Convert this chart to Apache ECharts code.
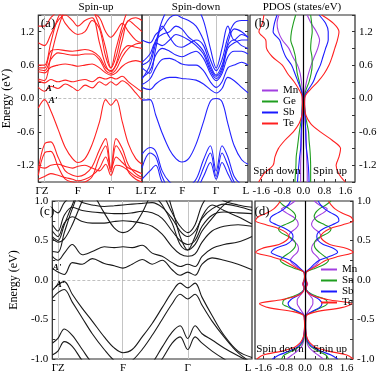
<!DOCTYPE html>
<html>
<head>
<meta charset="utf-8">
<script src="https://cdn.jsdelivr.net/npm/echarts@6/dist/echarts.min.js"></script>
<style>
  html, body { margin: 0; padding: 0; background: #fff; }
  #main { width: 382px; height: 374px; }
</style>
</head>
<body>
<div id="main"></div>
<script>
var FONT = 'Liberation Serif';

// ---- k-path (fraction of path) for each band panel ----
var kA = [0, 0.06, 0.12, 0.19, 0.26, 0.33, 0.38, 0.45, 0.52, 0.59, 0.65, 0.70, 0.75, 0.81, 0.87, 0.94, 1];
var kB = [0, 0.075, 0.13, 0.19, 0.26, 0.32, 0.375, 0.44, 0.51, 0.58, 0.645, 0.70, 0.755, 0.81, 0.87, 0.94, 1];
var kC = [0, 0.028, 0.06, 0.1, 0.15, 0.2, 0.26, 0.31, 0.354, 0.4, 0.45, 0.5, 0.55, 0.6, 0.64, 0.678, 0.715, 0.75, 0.8, 0.86, 0.93, 1];
var symA = [0.06, 0.38, 0.70];
var symB = [0.075, 0.375, 0.70];
var symC = [0.028, 0.354, 0.678];
var labA = { pos: [0.035, 0.38, 0.70, 0.97], txt: ['ΓZ', 'F', 'Γ', 'L'] };
var labB = { pos: [0.075, 0.38, 0.70, 0.98], txt: ['ΓZ', 'F', 'Γ', 'L'] };
var labC = { pos: [0.03, 0.354, 0.678, 0.98], txt: ['ΓZ', 'F', 'Γ', 'L'] };

// ---- (a) spin-up bands (eV) ----
var aV1 = [-0.17, -0.02, -0.22, -0.55, -0.88, -1.08, -1.15, -1.08, -0.82, -0.42, -0.02, -0.12, -0.02, -0.42, -0.82, -1.08, -1.18];
var aV2 = [-1.28, -0.82, -0.78, -1.05, -1.3, -1.38, -1.4, -1.36, -1.22, -0.92, -0.72, -1.25, -0.72, -0.9, -1.2, -1.35, -1.42];
var aV3 = [-1.38, -0.98, -0.95, -1.22, -1.45, -1.5, -1.52, -1.5, -1.4, -1.05, -0.85, -1.32, -0.85, -1.02, -1.32, -1.45, -1.5];
var aV4 = [-1.22, -1.25, -1.2, -1.18, -1.22, -1.25, -1.22, -1.2, -1.25, -1.3, -1.18, -1.38, -1.2, -1.22, -1.3, -1.4, -1.45];
var aV5 = [-1.45, -1.4, -1.35, -1.38, -1.42, -1.45, -1.48, -1.45, -1.38, -1.25, -1.05, -1.28, -1.05, -1.15, -1.25, -1.3, -1.35];
var aC1 = [0.2, 0.13, 0.22, 0.18, 0.26, 0.2, 0.14, 0.24, 0.19, 0.3, 0.24, 0.3, 0.24, 0.32, 0.25, 0.1, -0.03];
var aC2 = [0.32, 0.28, 0.34, 0.3, 0.33, 0.3, 0.32, 0.34, 0.3, 0.38, 0.35, 0.38, 0.35, 0.4, 0.3, 0.2, 0.12];
var aC3 = [0.48, 0.46, 0.56, 0.6, 0.62, 0.6, 0.58, 0.6, 0.62, 0.55, 0.46, 0.42, 0.46, 0.58, 0.65, 0.68, 0.65];
var aC4 = [0.52, 0.5, 0.7, 0.82, 0.8, 0.78, 0.78, 0.8, 0.8, 0.7, 0.5, 0.45, 0.52, 0.75, 0.9, 0.98, 1.0];
var aC5 = [0.55, 0.55, 0.85, 0.88, 0.86, 0.85, 0.86, 0.88, 0.85, 0.75, 0.55, 0.5, 0.6, 0.85, 0.95, 0.92, 0.9];
var aC6 = [0.35, 0.32, 0.75, 1.25, 1.6, 1.7, 1.7, 1.7, 1.6, 1.3, 0.9, 0.55, 0.9, 1.3, 1.6, 1.7, 1.7];
var aC7 = [1.0, 0.95, 1.15, 1.4, 1.5, 1.4, 1.3, 1.4, 1.45, 1.0, 0.6, 0.48, 0.62, 1.05, 1.4, 1.3, 1.2];
var aC8 = [1.3, 1.3, 1.45, 1.55, 1.35, 1.2, 1.15, 1.2, 1.4, 1.25, 0.75, 0.55, 0.75, 1.2, 1.4, 1.45, 1.4];
var aC9 = [0.6, 0.6, 1.0, 1.45, 1.6, 1.6, 1.6, 1.6, 1.55, 1.45, 1.2, 1.1, 1.2, 1.35, 1.2, 1.05, 1.0];

// ---- spin-down bands (eV) ----
var bV1 = [-0.03, -0.02, -0.3, -0.62, -0.92, -1.08, -1.14, -1.08, -0.82, -0.42, -0.05, 0.0, -0.06, -0.45, -0.85, -1.1, -1.18];
var bV2 = [-1.0, -0.88, -0.95, -1.3, -1.5, -1.55, -1.55, -1.55, -1.45, -1.1, -0.85, -1.3, -0.85, -1.05, -1.4, -1.55, -1.6];
var bV3 = [-1.25, -0.98, -1.05, -1.4, -1.6, -1.6, -1.6, -1.6, -1.55, -1.25, -0.98, -1.4, -0.98, -1.2, -1.5, -1.6, -1.6];
var bV4 = [-1.45, -1.3, -1.2, -1.5, -1.6, -1.6, -1.6, -1.6, -1.6, -1.4, -1.15, -1.45, -1.15, -1.35, -1.55, -1.6, -1.6];
var bC1 = [0.2, 0.16, 0.26, 0.34, 0.38, 0.38, 0.36, 0.35, 0.33, 0.26, 0.16, 0.1, 0.18, 0.38, 0.32, 0.2, 0.1];
var bC2 = [0.25, 0.35, 0.55, 0.7, 0.72, 0.68, 0.62, 0.6, 0.6, 0.5, 0.3, 0.2, 0.3, 0.55, 0.6, 0.65, 0.6];
var bC3 = [0.38, 0.5, 0.78, 0.9, 0.85, 0.78, 0.75, 0.8, 0.85, 0.72, 0.45, 0.32, 0.45, 0.75, 0.85, 0.85, 0.8];
var bC4 = [0.55, 0.45, 0.9, 1.3, 1.1, 0.95, 0.92, 0.98, 1.05, 0.95, 0.6, 0.42, 0.6, 0.95, 1.05, 0.95, 0.9];
var bC5 = [0.35, 0.6, 1.0, 1.4, 1.65, 1.7, 1.7, 1.7, 1.65, 1.4, 0.9, 0.55, 0.9, 1.3, 1.05, 1.15, 1.1];
var bC6 = [0.6, 0.7, 1.05, 1.15, 1.2, 1.3, 1.25, 1.1, 1.0, 0.85, 0.55, 0.4, 0.55, 1.0, 1.25, 1.2, 1.1];
var bC7 = [0.65, 0.8, 1.0, 0.95, 1.05, 1.15, 1.12, 1.05, 0.95, 0.8, 0.5, 0.36, 0.5, 0.9, 1.0, 1.05, 1.05];
var bC8 = [1.05, 1.0, 1.15, 1.25, 1.45, 1.5, 1.45, 1.4, 1.3, 1.05, 0.7, 0.5, 0.7, 1.1, 1.35, 1.4, 1.4];

// ---- (c) bands (eV) ----
var cV1 = [-0.13, -0.06, -0.02, -0.18, -0.36, -0.52, -0.72, -0.86, -0.92, -0.88, -0.72, -0.55, -0.35, -0.15, -0.04, -0.1, -0.04, -0.22, -0.45, -0.7, -0.9, -0.98];
var cV2 = [-0.23, -0.16, -0.12, -0.28, -0.48, -0.68, -0.88, -1.02, -1.08, -1.02, -0.88, -0.7, -0.5, -0.3, -0.18, -0.24, -0.18, -0.32, -0.52, -0.72, -0.92, -1.05];
var cV3 = [-0.8, -0.74, -0.62, -0.7, -0.88, -1.05, -1.15, -1.2, -1.2, -1.2, -1.15, -1.05, -0.85, -0.66, -0.58, -0.74, -0.58, -0.68, -0.76, -0.86, -0.96, -1.05];
var cV4 = [-0.95, -0.9, -0.78, -0.84, -1.02, -1.15, -1.2, -1.2, -1.2, -1.2, -1.2, -1.15, -1.0, -0.8, -0.72, -0.88, -0.72, -0.8, -0.9, -1.0, -1.1, -1.15];
var cC1 = [0.15, 0.1, 0.07, 0.22, 0.2, 0.27, 0.21, 0.18, 0.15, 0.2, 0.26, 0.2, 0.25, 0.13, 0.06, 0.1, 0.06, 0.2, 0.28, 0.25, 0.2, 0.13];
var cC2 = [0.3, 0.25, 0.34, 0.45, 0.32, 0.36, 0.42, 0.41, 0.42, 0.41, 0.44, 0.34, 0.3, 0.22, 0.17, 0.2, 0.17, 0.3, 0.4, 0.45, 0.48, 0.55];
var cC3 = [0.55, 0.5, 0.7, 0.95, 1.2, 1.1, 0.85, 0.66, 0.6, 0.66, 0.85, 1.1, 1.2, 0.9, 0.55, 0.38, 0.55, 0.8, 0.95, 0.88, 0.8, 0.71];
var cC4 = [0.7, 0.62, 0.82, 0.92, 0.88, 0.86, 0.85, 0.84, 0.84, 0.85, 0.87, 0.85, 0.78, 0.62, 0.5, 0.45, 0.5, 0.68, 0.82, 0.86, 0.85, 0.84];
var cC5 = [0.62, 0.55, 0.72, 0.8, 0.74, 0.72, 0.72, 0.74, 0.75, 0.74, 0.72, 0.68, 0.58, 0.42, 0.33, 0.3, 0.33, 0.48, 0.62, 0.68, 0.7, 0.68];
var cC6 = [0.9, 0.85, 0.98, 1.05, 0.98, 0.95, 0.93, 0.94, 0.95, 0.96, 0.97, 0.98, 0.92, 0.78, 0.62, 0.55, 0.62, 0.78, 0.9, 0.96, 0.93, 0.88];
var cC7 = [0.36, 0.35, 0.6, 0.9, 1.2, 1.3, 1.3, 1.3, 1.3, 1.3, 1.3, 1.25, 1.1, 0.85, 0.68, 0.6, 0.7, 0.95, 1.1, 1.0, 0.95, 0.92];
var cC8 = [0.53, 0.48, 0.52, 0.7, 1.0, 1.25, 1.3, 1.3, 1.3, 1.3, 1.25, 1.1, 0.95, 0.72, 0.45, 0.38, 0.45, 0.62, 0.78, 0.95, 1.05, 1.1];

// ---- (b) PDOS, energies and states/eV (spin down negative) ----
var Eb = [1.5, 1.35, 1.2, 1.05, 0.9, 0.75, 0.6, 0.45, 0.3, 0.15, 0.05, -0.05, -0.15, -0.3, -0.45, -0.6, -0.75, -0.9, -1.05, -1.2, -1.35, -1.5];
var bMnUp = [0.15, 0.3, 0.5, 0.62, 0.55, 0.42, 0.3, 0.2, 0.12, 0.06, 0.04, 0.04, 0.05, 0.06, 0.08, 0.1, 0.11, 0.12, 0.13, 0.14, 0.15, 0.15];
var bMnDn = [-0.93, -1.0, -0.95, -0.8, -0.55, -0.4, -0.22, -0.12, -0.07, -0.04, -0.03, -0.03, -0.03, -0.04, -0.05, -0.06, -0.07, -0.08, -0.09, -0.1, -0.1, -0.1];
var bGeUp = [0.28, 0.32, 0.34, 0.3, 0.28, 0.33, 0.34, 0.3, 0.22, 0.1, 0.05, 0.04, 0.05, 0.08, 0.14, 0.2, 0.22, 0.25, 0.27, 0.28, 0.28, 0.28];
var bGeDn = [-0.29, -0.38, -0.45, -0.48, -0.38, -0.3, -0.27, -0.23, -0.15, -0.08, -0.04, -0.03, -0.04, -0.06, -0.1, -0.15, -0.19, -0.23, -0.27, -0.28, -0.3, -0.32];
var bSbUp = [0.6, 0.85, 0.95, 0.95, 0.85, 0.75, 0.65, 0.5, 0.38, 0.18, 0.06, 0.05, 0.05, 0.07, 0.08, 0.09, 0.1, 0.12, 0.16, 0.19, 0.21, 0.22];
var bSbDn = [-1.0, -1.1, -1.15, -0.9, -0.8, -0.67, -0.45, -0.32, -0.2, -0.08, -0.03, -0.03, -0.04, -0.05, -0.06, -0.08, -0.09, -0.1, -0.14, -0.17, -0.2, -0.22];
var bTeUp = [0.7, 1.15, 1.36, 1.3, 1.2, 1.1, 0.98, 0.8, 0.55, 0.25, 0.08, 0.05, 0.05, 0.1, 0.28, 0.65, 1.1, 1.42, 1.36, 1.25, 1.35, 1.6];
var bTeDn = [-1.5, -1.56, -1.69, -1.43, -1.4, -1.18, -0.8, -0.6, -0.35, -0.15, -0.05, -0.04, -0.03, -0.05, -0.16, -0.38, -0.7, -0.95, -1.08, -1.15, -1.5, -1.7];

// ---- (d) PDOS ----
var Ed = [1.0, 0.95, 0.9, 0.85, 0.8, 0.75, 0.7, 0.65, 0.6, 0.55, 0.5, 0.45, 0.4, 0.35, 0.3, 0.25, 0.2, 0.15, 0.1, 0.05, 0.0,
          -0.05, -0.1, -0.15, -0.2, -0.25, -0.3, -0.35, -0.4, -0.45, -0.5, -0.55, -0.6, -0.65, -0.7, -0.75, -0.8, -0.85, -0.9, -0.95, -1.0];
var dMnUp = [0.35, 0.55, 0.85, 0.7, 0.45, 0.3, 0.25, 0.35, 0.55, 0.6, 0.45, 0.3, 0.25, 0.3, 0.45, 0.55, 0.45, 0.25, 0.03, 0.02, 0.04, 0.1, 0.04, 0.08, 0.2, 0.3, 0.3, 0.22, 0.12, 0.03, 0.02, 0.02, 0.02, 0.02, 0.03, 0.04, 0.08, 0.15, 0.3, 0.5, 0.7];
var dMnDn = [-0.38, -0.6, -0.9, -0.72, -0.46, -0.3, -0.26, -0.36, -0.56, -0.62, -0.46, -0.3, -0.25, -0.3, -0.46, -0.56, -0.46, -0.25, -0.03, -0.02, -0.04, -0.1, -0.04, -0.08, -0.2, -0.3, -0.3, -0.22, -0.12, -0.03, -0.02, -0.02, -0.02, -0.02, -0.03, -0.04, -0.08, -0.15, -0.3, -0.5, -0.7];
var dSnUp = [1.0, 0.8, 0.55, 0.4, 0.35, 0.45, 0.75, 1.0, 0.9, 0.6, 0.4, 0.35, 0.4, 0.55, 0.75, 0.9, 0.75, 0.4, 0.05, 0.02, 0.03, 0.06, 0.03, 0.12, 0.4, 0.8, 0.85, 0.6, 0.3, 0.04, 0.02, 0.02, 0.02, 0.02, 0.03, 0.06, 0.12, 0.25, 0.5, 0.8, 0.9];
var dSnDn = [-1.0, -0.85, -0.6, -0.42, -0.36, -0.45, -0.78, -1.02, -0.92, -0.62, -0.42, -0.36, -0.42, -0.58, -0.8, -0.95, -0.78, -0.42, -0.05, -0.02, -0.03, -0.06, -0.03, -0.12, -0.4, -0.8, -0.86, -0.6, -0.3, -0.04, -0.02, -0.02, -0.02, -0.02, -0.03, -0.06, -0.12, -0.25, -0.5, -0.8, -0.9];
var dSbUp = [0.5, 0.6, 0.75, 1.0, 1.25, 1.3, 1.05, 0.7, 0.5, 0.45, 0.5, 0.7, 1.1, 1.25, 0.95, 0.55, 0.35, 0.2, 0.04, 0.02, 0.02, 0.05, 0.03, 0.1, 0.3, 0.55, 0.65, 0.55, 0.25, 0.04, 0.02, 0.02, 0.02, 0.03, 0.05, 0.08, 0.15, 0.3, 0.6, 1.0, 1.25];
var dSbDn = [-0.55, -0.65, -0.8, -1.05, -1.3, -1.35, -1.1, -0.75, -0.52, -0.46, -0.52, -0.72, -1.15, -1.3, -1.0, -0.58, -0.36, -0.2, -0.04, -0.02, -0.02, -0.05, -0.03, -0.1, -0.3, -0.55, -0.65, -0.55, -0.25, -0.04, -0.02, -0.02, -0.02, -0.03, -0.05, -0.08, -0.15, -0.3, -0.6, -1.0, -1.25];
var dTeUp = [0.9, 1.0, 1.15, 1.4, 1.75, 1.85, 1.45, 0.95, 0.7, 0.6, 0.7, 0.95, 1.6, 1.85, 1.3, 0.8, 0.55, 0.3, 0.05, 0.02, 0.03, 0.08, 0.03, 0.08, 0.3, 0.9, 1.8, 1.4, 0.45, 0.05, 0.03, 0.02, 0.02, 0.03, 0.05, 0.1, 0.2, 0.4, 0.9, 1.6, 1.85];
var dTeDn = [-0.95, -1.05, -1.2, -1.45, -1.8, -1.9, -1.5, -1.0, -0.72, -0.62, -0.72, -1.0, -1.65, -1.9, -1.35, -0.85, -0.58, -0.32, -0.05, -0.02, -0.03, -0.08, -0.03, -0.08, -0.3, -0.9, -1.75, -1.4, -0.45, -0.05, -0.03, -0.02, -0.02, -0.03, -0.05, -0.1, -0.2, -0.4, -0.9, -1.6, -1.85];

var cMn = '#a23fe0', cGe = '#1f9e1f', cSb = '#1a1aff', cTe = '#ff2020';

var chart = echarts.init(document.getElementById('main'), null, { renderer: 'canvas' });

var txtStyle = { fontFamily: FONT, fontSize: 11, color: '#000' };

function bandSeries(k, bands, color, gi, syms) {
  return bands.map(function (b, i) {
    var s = {
      type: 'line', xAxisIndex: gi, yAxisIndex: gi, silent: true, animation: false,
      data: b.map(function (e, j) { return [k[j], e]; }),
      smooth: 0.35, symbol: 'none', clip: true,
      lineStyle: { color: color, width: 1.1 }, itemStyle: { color: color }, z: 3
    };
    if (i === 0) {
      var ml = syms.map(function (x) { return { xAxis: x, lineStyle: { color: '#c4c4c4', width: 1, type: 'solid' } }; });
      ml.push({ yAxis: 0, lineStyle: { color: '#b0b0b0', width: 0.8, type: [3, 2] } });
      s.markLine = { silent: true, symbol: ['none', 'none'], label: { show: false }, animation: false, data: ml, z: 1 };
    }
    return s;
  });
}

function dosSeries(name, E, xs, color, gi, zero) {
  var s = {
    name: name, type: 'line', xAxisIndex: gi, yAxisIndex: gi, silent: true, animation: false,
    data: xs.map(function (x, j) { return [x, E[j]]; }),
    smooth: 0.3, symbol: 'none', clip: true,
    lineStyle: { color: color, width: 1.1 }, itemStyle: { color: color }, z: 3
  };
  if (zero) {
    s.markLine = { silent: true, symbol: ['none', 'none'], label: { show: false }, animation: false,
      data: [{ xAxis: 0, lineStyle: { color: '#000', width: 1.2, type: 'solid' } }] };
  }
  return s;
}

function kAxis(gi, lab) {
  return {
    type: 'value', gridIndex: gi, min: 0, max: 1,
    axisLine: { show: false, onZero: false }, splitLine: { show: false }, axisTick: { show: false },
    axisLabel: Object.assign({
      customValues: lab.pos, margin: 4,
      formatter: function (v) {
        var best = 0;
        lab.pos.forEach(function (p, i) { if (Math.abs(p - v) < Math.abs(lab.pos[best] - v)) best = i; });
        return lab.txt[best];
      }
    }, txtStyle)
  };
}

function dosAxis(gi, min, max) {
  return {
    type: 'value', gridIndex: gi, min: min, max: max,
    axisLine: { show: false, onZero: false }, splitLine: { show: false },
    axisTick: { inside: true, length: 3, customValues: [-1.6, -1.2, -0.8, -0.4, 0, 0.4, 0.8, 1.2, 1.6], lineStyle: { color: '#333' } },
    axisLabel: Object.assign({ customValues: [-1.6, -0.8, 0, 0.8, 1.6], margin: 4,
      formatter: function (v) { return v.toFixed(1); } }, txtStyle)
  };
}

function eAxis(gi, min, max, labels, ticks, pos, showLabel, name, gap) {
  var ax = {
    type: 'value', gridIndex: gi, min: min, max: max, position: pos,
    axisLine: { show: false, onZero: false }, splitLine: { show: false },
    axisTick: { inside: true, length: 3, customValues: ticks, lineStyle: { color: '#333' } },
    axisLabel: Object.assign({ show: showLabel, customValues: labels, margin: 4,
      formatter: function (v) { return v.toFixed(1); } }, txtStyle)
  };
  if (name) {
    ax.name = name; ax.nameLocation = 'middle'; ax.nameGap = gap;
    ax.nameTextStyle = { fontFamily: FONT, fontSize: 12, color: '#000' };
  }
  return ax;
}

var gridBase = { show: true, borderColor: '#2a2a2a', borderWidth: 1.2, backgroundColor: 'transparent', containLabel: false };
var ticksA = [-1.5, -1.2, -0.9, -0.6, -0.3, 0, 0.3, 0.6, 0.9, 1.2, 1.5];
var labsA = [-1.2, -0.6, 0, 0.6, 1.2];
var ticksC = [-1, -0.75, -0.5, -0.25, 0, 0.25, 0.5, 0.75, 1];
var labsC = [-1, -0.5, 0, 0.5, 1];

var series = []
  .concat(bandSeries(kA, [aV1, aV2, aV3, aV4, aV5, aC1, aC2, aC3, aC4, aC5, aC6, aC7, aC8, aC9], '#ff2222', 0, symA))
  .concat(bandSeries(kB, [bV1, bV2, bV3, bV4, bC1, bC2, bC3, bC4, bC5, bC6, bC7, bC8], '#2222ff', 1, symB))
  .concat(bandSeries(kC, [cV1, cV2, cV3, cV4, cC1, cC2, cC3, cC4, cC5, cC6, cC7, cC8], '#1a1a1a', 3, symC))
  .concat([
    dosSeries('Mn', Eb, bMnUp, cMn, 2, true), dosSeries('Mn', Eb, bMnDn, cMn, 2),
    dosSeries('Ge', Eb, bGeUp, cGe, 2), dosSeries('Ge', Eb, bGeDn, cGe, 2),
    dosSeries('Sb', Eb, bSbUp, cSb, 2), dosSeries('Sb', Eb, bSbDn, cSb, 2),
    dosSeries('Te', Eb, bTeUp, cTe, 2), dosSeries('Te', Eb, bTeDn, cTe, 2),
    dosSeries('Mn', Ed, dMnUp, cMn, 4, true), dosSeries('Mn', Ed, dMnDn, cMn, 4),
    dosSeries('Sn', Ed, dSnUp, cGe, 4), dosSeries('Sn', Ed, dSnDn, cGe, 4),
    dosSeries('Sb', Ed, dSbUp, cSb, 4), dosSeries('Sb', Ed, dSbDn, cSb, 4),
    dosSeries('Te', Ed, dTeUp, cTe, 4), dosSeries('Te', Ed, dTeDn, cTe, 4)
  ]);

function legendAt(names, left, top) {
  return {
    data: names, orient: 'vertical', left: left, top: top, icon: 'rect',
    itemWidth: 16, itemHeight: 2, itemGap: 0, selectedMode: false, padding: 0,
    textStyle: { fontFamily: FONT, fontSize: 11, color: '#000', lineHeight: 10 }
  };
}

function label(text, x, y, opts) {
  return {
    type: 'text', x: x, y: y, silent: true, z: 10,
    style: Object.assign({ text: text, fill: '#000', font: '11px "' + FONT + '"', align: 'center', verticalAlign: 'middle' }, opts || {})
  };
}

var option = {
  animation: false,
  backgroundColor: '#fff',
  grid: [
    Object.assign({ left: 36, top: 15, width: 106, height: 167 }, gridBase),
    Object.assign({ left: 142, top: 15, width: 106, height: 167 }, gridBase),
    Object.assign({ left: 250, top: 15, width: 105, height: 167 }, gridBase),
    Object.assign({ left: 39, top: 201, width: 213, height: 159 }, gridBase),
    Object.assign({ left: 255, top: 201, width: 98, height: 159 }, gridBase)
  ],
  xAxis: [
    kAxis(0, labA), kAxis(1, labB), dosAxis(2, -2.03, 1.97), kAxis(3, labC), dosAxis(4, -1.92, 1.84)
  ],
  yAxis: [
    eAxis(0, -1.5, 1.5, labsA, ticksA, 'left', true, 'Energy (eV)', 23),
    eAxis(1, -1.5, 1.5, labsA, ticksA, 'right', false),
    eAxis(2, -1.5, 1.5, labsA, ticksA, 'right', true),
    eAxis(3, -1, 1, labsC, ticksC, 'left', true, 'Energy (eV)', 26),
    eAxis(4, -1, 1, labsC, ticksC, 'right', true)
  ],
  legend: [
    legendAt(['Mn', 'Ge', 'Sb', 'Te'], 262, 85),
    legendAt(['Mn', 'Sn', 'Sb', 'Te'], 321, 264)
  ],
  graphic: [
    label('Spin-up', 96, 7),
    label('Spin-down', 196, 7),
    label('PDOS (states/eV)', 302, 7),
    label('(a)', 48, 24, { font: '13px "' + FONT + '"' }),
    label('(b)', 262, 24, { font: '13px "' + FONT + '"' }),
    label('(c)', 47, 212, { font: '13px "' + FONT + '"' }),
    label('(d)', 262, 212, { font: '13px "' + FONT + '"' }),
    label("A'", 50, 89, { font: 'italic bold 9px "' + FONT + '"' }),
    label("A'", 53, 101, { font: 'italic bold 9px "' + FONT + '"' }),
    label("A'", 57, 268, { font: 'italic bold 9px "' + FONT + '"' }),
    label("A'", 60, 285, { font: 'italic bold 9px "' + FONT + '"' }),
    label('Spin down', 277, 171),
    label('Spin up', 330, 171),
    label('Spin down', 280, 349),
    label('Spin up', 330, 349)
  ],
  series: series
};

chart.setOption(option);
</script>
</body>
</html>
